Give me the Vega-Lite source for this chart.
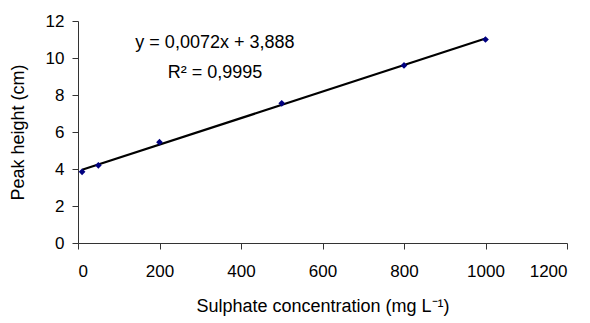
{
  "$schema": "https://vega.github.io/schema/vega-lite/v6.json",
  "width": 489,
  "height": 222,
  "autosize": {"type": "none"},
  "padding": {"left": 78, "top": 21, "right": 23, "bottom": 80},
  "background": "white",
  "config": {
    "view": {"stroke": null},
    "font": "Liberation Sans",
    "axis": {
      "grid": false,
      "domainColor": "#333333",
      "tickColor": "#333333",
      "tickSize": 6,
      "labelOverlap": false,
      "labelFont": "Liberation Sans",
      "labelFontSize": 17,
      "labelColor": "#000000",
      "titleFont": "Liberation Sans",
      "titleFontSize": 18,
      "titleFontWeight": "normal",
      "titleColor": "#000000"
    }
  },
  "data": {
    "values": [
      {"conc": 10, "height": 3.85},
      {"conc": 50, "height": 4.2},
      {"conc": 200, "height": 5.45},
      {"conc": 500, "height": 7.55},
      {"conc": 800, "height": 9.6},
      {"conc": 1000, "height": 11.0}
    ]
  },
  "encoding": {
    "x": {
      "field": "conc", "type": "quantitative",
      "scale": {"domain": [0, 1200], "nice": false},
      "axis": {"values": [0, 200, 400, 600, 800, 1000, 1200], "format": "d", "title": "Sulphate concentration (mg L⁻¹)", "labelPadding": 14, "titlePadding": 18}
    },
    "y": {
      "field": "height", "type": "quantitative",
      "scale": {"domain": [0, 12], "nice": false},
      "axis": {"values": [0, 2, 4, 6, 8, 10, 12], "tickCount": 7, "title": "Peak height (cm)", "labelPadding": 8, "titlePadding": 18}
    }
  },
  "layer": [
    {
      "transform": [{"regression": "height", "on": "conc"}],
      "mark": {"type": "line", "color": "#000000", "strokeWidth": 2.2}
    },
    {
      "mark": {"type": "point", "shape": "diamond", "filled": true, "color": "#000080", "size": 45, "opacity": 1}
    },
    {
      "data": {"values": [
        {"conc": 336, "height": 10.8, "label": "y = 0,0072x + 3,888"},
        {"conc": 336, "height": 9.2, "label": "R² = 0,9995"}
      ]},
      "mark": {"type": "text", "fontSize": 18, "font": "Liberation Sans", "color": "#000000", "align": "center", "baseline": "middle"},
      "encoding": {
        "text": {"field": "label"}
      }
    }
  ]
}
